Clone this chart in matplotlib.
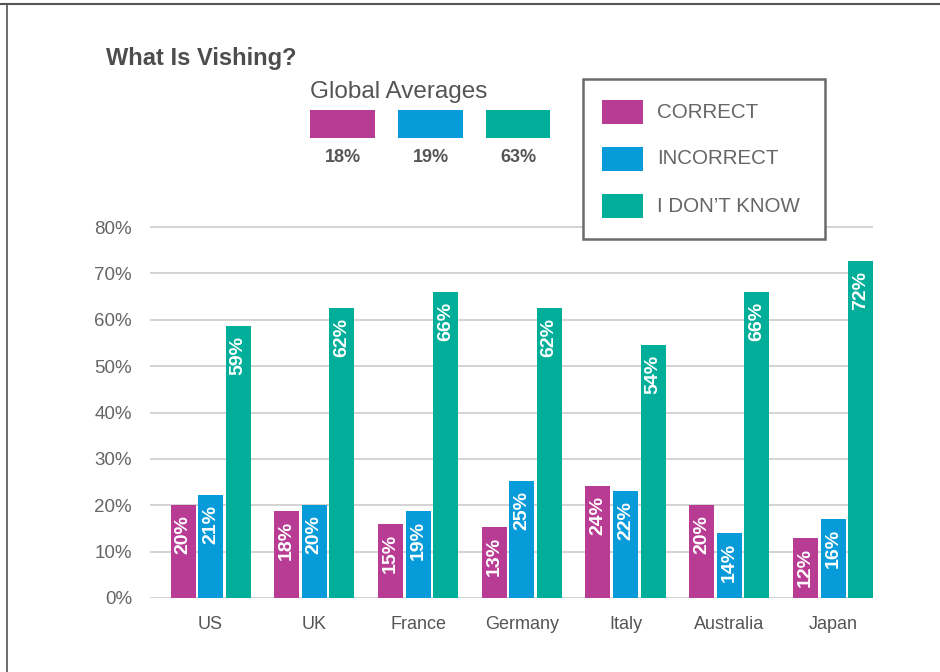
import numpy as np
import matplotlib.pyplot as plt
from matplotlib.patches import Rectangle
from matplotlib.lines import Line2D
from matplotlib.ticker import FuncFormatter

plt.rcParams['font.family'] = ['Liberation Sans', 'DejaVu Sans']

# Datos
paises = ["US", "UK", "France", "Germany", "Italy", "Australia", "Japan"]
series = ["CORRECT", "INCORRECT", "I DON\u2019T KNOW"]
correcto = [20.0, 18.7, 16.0, 15.3, 24.1, 20.0, 12.9]
incorrecto = [22.2, 20.0, 18.7, 25.2, 23.0, 14.0, 17.0]
no_sabe = [58.6, 62.5, 66.0, 62.5, 54.5, 66.0, 72.6]
# etiquetas impresas en las barras (no coinciden del todo con la altura)
etiq_correcto = [20, 18, 15, 13, 24, 20, 12]
etiq_incorrecto = [21, 20, 19, 25, 22, 14, 16]
etiq_no_sabe = [59, 62, 66, 62, 54, 66, 72]
promedios = [18, 19, 63]

colores = ["#B83C94", "#089BD9", "#00AE99"]
gris_texto = "#666666"

W, H = 940, 672
fig = plt.figure(figsize=(W / 100, H / 100), dpi=100)

def fx(x):
    return x / W

def fy(y):
    return 1 - y / H

# marco de la imagen (arriba e izquierda)
fig.add_artist(Line2D([0, 1], [fy(4), fy(4)], color="#555555", lw=1.5))
fig.add_artist(Line2D([fx(7), fx(7)], [0, fy(4)], color="#555555", lw=1.2))

# ejes: 0% en y=598, 82% arriba
y0, y80 = 598, 227
px_por_pct = (y0 - y80) / 80
top = y0 - 82 * px_por_pct
ax = fig.add_axes([fx(150), fy(y0), fx(873) - fx(150), (y0 - top) / H])

x = np.arange(len(paises))
ancho = 25 / 103.75
sep = 27.5 / 103.75
grupos = [(correcto, etiq_correcto), (incorrecto, etiq_incorrecto), (no_sabe, etiq_no_sabe)]
for k, (vals, etiqs) in enumerate(grupos):
    pos = x + (k - 1) * sep
    ax.bar(pos, vals, width=ancho, color=colores[k], zorder=3)
    for xi, v, e in zip(pos, vals, etiqs):
        ax.annotate(f"{e}%", (xi, v), xytext=(0, -7), textcoords="offset points",
                    rotation=90, ha="center", va="top", color="white",
                    fontsize=14, fontweight="bold", zorder=4)

ax.set_xlim((150 - 210.5) / 103.75, (873 - 210.5) / 103.75)
ax.set_ylim(0, 82)
ax.set_yticks(np.arange(0, 81, 10))
ax.yaxis.set_major_formatter(FuncFormatter(lambda v, p: f"{v:.0f}%"))
ax.set_xticks(x)
ax.set_xticklabels(paises)
ax.grid(axis="y", color="#cccccc", lw=1.2, zorder=0)
for s in ax.spines.values():
    s.set_visible(False)
ax.tick_params(axis="y", length=0, pad=13, labelsize=13.5, labelcolor=gris_texto)
ax.tick_params(axis="x", length=0, pad=13, labelsize=13, labelcolor="#555555")

# titulo
fig.text(fx(106), fy(58), "What Is Vishing?", fontsize=17, fontweight="bold",
         color="#4d4d4d", ha="left", va="center")

# promedios globales
fig.text(fx(310), fy(92), "Global Averages", fontsize=17.5, color="#555555",
         ha="left", va="center")
for k, (x1, x2) in enumerate([(310, 375), (398, 463), (486, 550)]):
    fig.add_artist(Rectangle((fx(x1), fy(138)), fx(x2) - fx(x1), (138 - 110) / H,
                             color=colores[k], lw=0))
    fig.text(fx((x1 + x2) / 2), fy(158), f"{promedios[k]}%", fontsize=13,
             fontweight="bold", color="#555555", ha="center", va="center")

# leyenda dibujada a mano
fig.add_artist(Rectangle((fx(583), fy(239)), fx(825) - fx(583), (239 - 79) / H,
                         facecolor="white", edgecolor="#6b6b6e", lw=1.8, zorder=5))
for k, (ya, yb) in enumerate([(100, 124), (147, 171), (194, 218)]):
    fig.add_artist(Rectangle((fx(602), fy(yb)), fx(643) - fx(602), (yb - ya) / H,
                             color=colores[k], lw=0, zorder=6))
    fig.text(fx(657), fy((ya + yb) / 2), series[k], fontsize=14.8, color=gris_texto,
             ha="left", va="center", zorder=6)

fig.savefig("out.png", dpi=100)
